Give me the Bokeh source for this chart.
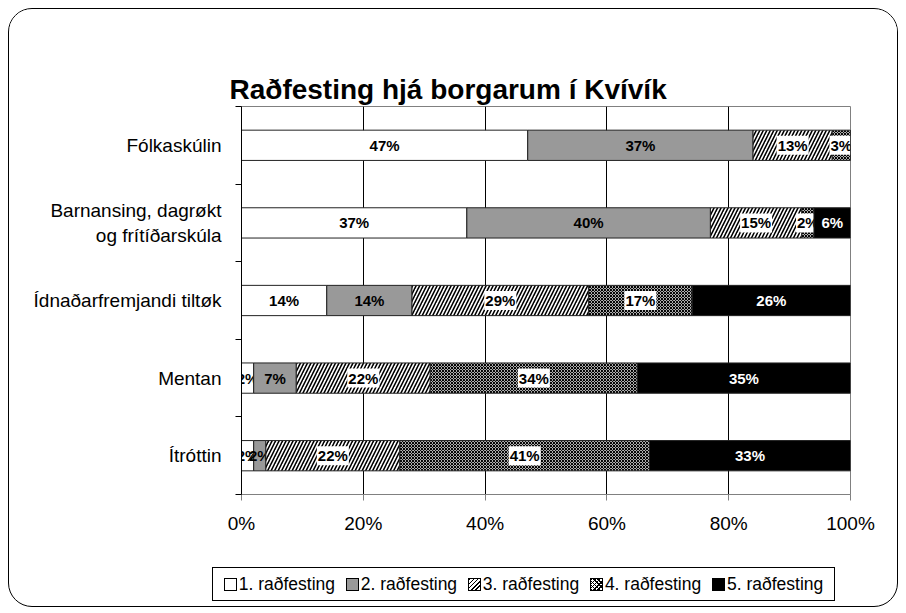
import numpy as np
from bokeh.plotting import figure
from bokeh.layouts import column
from bokeh.models import (Range1d, FixedTicker, NumeralTickFormatter, ColumnDataSource, Div)
from bokeh.core.properties import value
from bokeh.embed import file_html
from bokeh.resources import INLINE

title_text = "Raðfesting hjá borgarum í Kvívík"
categories = ["Fólkaskúlin", "Barnansing, dagrøkt\nog frítíðarskúla",
              "Ídnaðarfremjandi tiltøk", "Mentan", "Ítróttin"]
series_names = ["1. raðfesting", "2. raðfesting", "3. raðfesting",
                "4. raðfesting", "5. raðfesting"]
s1 = [47, 37, 14, 2, 2]
s2 = [37, 40, 14, 7, 2]
s3 = [13, 15, 29, 22, 22]
s4 = [3, 2, 17, 34, 41]
s5 = [0, 6, 26, 35, 33]
x_ticks = [0, 0.2, 0.4, 0.6, 0.8, 1.0]

series = [s1, s2, s3, s4, s5]
ypos = [len(categories) - i - 0.5 for i in range(len(categories))]

fills = ["white", "#999999", "white", "white", "black"]
hatches = [" ", " ", "/", "x", " "]
hscale = [4, 4, 7, 3, 4]
hweight = [1, 1, 1.6, 1.2, 1]
txt_colors = ["black", "black", "black", "black", "white"]
txt_bg = [None, None, "white", "white", None]

FONT = "Liberation Sans"

p = figure(width=888, height=559, x_range=Range1d(0, 1), y_range=Range1d(0, 5),
           output_backend="svg", toolbar_location=None,
           min_border_left=232, min_border_right=47, min_border_top=97,
           min_border_bottom=74)
p.outline_line_color = "#808080"
p.outline_line_width = 1

left = np.zeros(len(categories))
for i, s in enumerate(series):
    vals = np.array(s, dtype=float) / 100.0
    right = left + vals
    src = ColumnDataSource(dict(y=ypos, left=left.copy(), right=right.copy()))
    p.hbar(y="y", left="left", right="right", height=0.39, source=src,
           fill_color=fills[i], line_color="#222222", line_width=1,
           hatch_pattern=hatches[i], hatch_color="black",
           hatch_scale=hscale[i], hatch_weight=hweight[i])
    mask = vals > 0
    lsrc = ColumnDataSource(dict(
        x=((left + right) / 2)[mask], y=np.array(ypos)[mask],
        t=["%d%%" % v for v in np.array(s)[mask]]))
    kw = {}
    if txt_bg[i]:
        kw = dict(background_fill_color=txt_bg[i], padding=1)
    p.text(x="x", y="y", text="t", source=lsrc, text_align="center",
           text_baseline="middle", text_font_size="15px", text_font_style="bold",
           text_font=value(FONT), text_color=txt_colors[i], **kw)
    left = right

# x axis
p.xaxis.ticker = FixedTicker(ticks=x_ticks)
p.xaxis.formatter = NumeralTickFormatter(format="0%")
p.xaxis.major_label_text_font = FONT
p.xaxis.major_label_text_font_size = "19px"
p.xaxis.major_label_text_color = "black"
p.xaxis.axis_line_color = "#808080"
p.xaxis.major_tick_line_color = "#808080"
p.xaxis.major_tick_out = 6
p.xaxis.major_tick_in = 0
p.xaxis.minor_tick_line_color = None
p.xaxis.major_label_standoff = 12

p.xgrid.ticker = FixedTicker(ticks=x_ticks)
p.xgrid.grid_line_color = "black"
p.ygrid.visible = False

# y axis
p.yaxis.ticker = FixedTicker(ticks=ypos, minor_ticks=[0, 1, 2, 3, 4, 5])
p.yaxis.major_label_overrides = {y: c for y, c in zip(ypos, categories)}
p.yaxis.major_label_text_font = FONT
p.yaxis.major_label_text_font_size = "19px"
p.yaxis.major_label_text_color = "black"
p.yaxis.major_tick_out = 0
p.yaxis.major_tick_in = 0
p.yaxis.minor_tick_out = 6
p.yaxis.minor_tick_in = 0
p.yaxis.minor_tick_line_color = "black"
p.yaxis.axis_line_color = "black"
p.yaxis.major_label_standoff = 14

# title
p.title.text = title_text
p.title.align = "left"
p.title.vertical_align = "top"
p.title.text_font = FONT
p.title.text_font_size = "28px"
p.title.text_font_style = "bold"
p.title.text_color = "black"
p.title.padding = 0
p.title.offset = -12
p.title.standoff = 0

# legend strip (HTML) below the chart
swatch_css = [
    "background:white;",
    "background:#999999;",
    "background:repeating-linear-gradient(135deg, black 0 1px, white 1px 3px);",
    "background:repeating-linear-gradient(45deg, black 0 1px, transparent 1px 3px),"
    "repeating-linear-gradient(135deg, black 0 1px, white 1px 3px);",
    "background:black;",
]
items_html = "".join(
    '<span style="display:inline-flex;align-items:center;white-space:nowrap;">'
    '<span style="display:inline-block;width:13px;height:13px;box-sizing:border-box;'
    'border:1px solid black;margin-right:2px;%s"></span>%s</span>' % (css, name)
    for css, name in zip(swatch_css, series_names))
legend_html = (
    '<div style="position:absolute;left:203px;top:-1px;width:623px;height:34px;'
    'box-sizing:border-box;border:1px solid black;background:white;'
    "font-family:'Liberation Sans';font-size:17.5px;color:black;"
    'display:flex;align-items:center;justify-content:space-evenly;">%s</div>' % items_html)
lg = Div(text=legend_html, width=888, height=38, margin=(0, 0, 0, 0),
         styles={"position": "relative"})

layout = column(p, lg, spacing=0)
layout.styles = {"border": "1px solid black", "border-radius": "24px",
                 "overflow": "hidden", "margin-left": "8px", "margin-top": "8px",
                 "background": "white"}

open("out.html", "w").write(file_html(layout, INLINE))
